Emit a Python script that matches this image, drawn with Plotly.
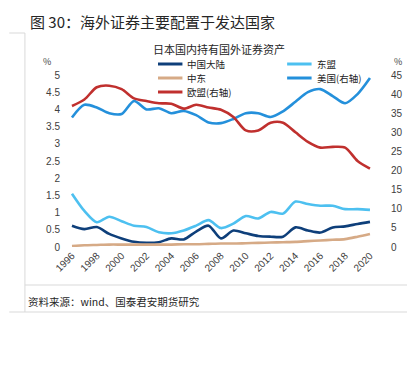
import plotly.graph_objects as go

years = list(range(1996, 2021))
china = [0.62, 0.52, 0.58, 0.38, 0.25, 0.15, 0.12, 0.14, 0.25, 0.22, 0.45, 0.62, 0.25, 0.48, 0.40,
         0.32, 0.30, 0.30, 0.57, 0.48, 0.42, 0.57, 0.60, 0.67, 0.73]
asean = [1.55, 1.05, 0.72, 0.88, 0.75, 0.62, 0.58, 0.43, 0.40, 0.48, 0.62, 0.78, 0.55, 0.68, 0.90,
         0.83, 1.02, 0.97, 1.32, 1.25, 1.20, 1.20, 1.10, 1.10, 1.08]
mideast = [0.03, 0.05, 0.06, 0.07, 0.07, 0.07, 0.07, 0.07, 0.07, 0.08, 0.08, 0.09, 0.10, 0.10, 0.11,
           0.12, 0.13, 0.14, 0.15, 0.17, 0.19, 0.21, 0.23, 0.30, 0.38]
usa = [33.9, 37.2, 36.5, 35.0, 34.8, 38.2, 36.0, 36.3, 35.0, 35.6, 34.5, 32.6, 32.4, 33.5, 35.0,
       35.0, 34.0, 35.5, 38.0, 40.5, 41.3, 39.5, 37.6, 40.0, 44.2]
eu = [36.9, 38.6, 41.8, 42.2, 41.3, 38.9, 38.2, 37.6, 37.5, 36.2, 37.2, 36.5, 35.9, 34.0, 30.5,
      30.5, 32.5, 32.5, 30.0, 27.5, 26.0, 26.2, 26.0, 22.5, 20.5]

left_ticks = [0, 0.5, 1, 1.5, 2, 2.5, 3, 3.5, 4, 4.5, 5]
right_ticks = [0, 5, 10, 15, 20, 25, 30, 35, 40, 45]
x_ticks = list(range(1996, 2021, 2))

# page has an 8px body margin: figure coords = page coords - 8
OFF = 8
W, H = 415 - OFF, 372 - OFF
L, R, T, B = 67 - OFF, W - (390 - OFF), 75 - OFF, H - (247 - OFF)
PW, PH = W - L - R, H - T - B


def px(x):
    return (x - OFF - L) / PW


def py(y):
    return (H - B - (y - OFF)) / PH


series = [
    ("中国大陆", china, "#0E3F7A", "y"),
    ("东盟", asean, "#4DC0F0", "y"),
    ("中东", mideast, "#D6AA86", "y"),
    ("美国(右轴)", usa, "#2490DB", "y2"),
    ("欧盟(右轴)", eu, "#C0302E", "y2"),
]

fig = go.Figure()
for name, vals, col, ax in series:
    fig.add_trace(go.Scatter(
        x=years, y=vals, name=name, yaxis=ax, mode="lines",
        line=dict(color=col, width=2.6, shape="spline", smoothing=0.8),
        hoverinfo="skip",
    ))

tickfont = dict(family="Liberation Sans, Arial", size=10, color="#404040")
fig.update_layout(
    width=W, height=H,
    margin=dict(l=L, r=R, t=T, b=B),
    paper_bgcolor="white", plot_bgcolor="white",
    showlegend=False,
    xaxis=dict(
        range=[1995.6, 2021.05], tickmode="array", tickvals=x_ticks,
        ticktext=[str(v) for v in x_ticks], tickangle=-45,
        tickfont=tickfont, showgrid=False, zeroline=False,
        showline=False, ticks="",
    ),
    yaxis=dict(
        range=[0, 5], tickmode="array", tickvals=left_ticks,
        ticktext=[str(v) for v in left_ticks],
        tickfont=tickfont, showgrid=False, zeroline=False, showline=False,
        ticks="", ticklabelstandoff=6,
    ),
    yaxis2=dict(
        range=[0, 45], overlaying="y", side="right", tickmode="array",
        tickvals=right_ticks, ticktext=[str(v) for v in right_ticks],
        tickfont=tickfont, showgrid=False, zeroline=False, showline=False,
        ticks="", ticklabelstandoff=7,
    ),
)

# manual legend in two columns (page coords)
LEG_FS = 9.5
legend_pos = {
    "中国大陆": (160, 64), "中东": (160, 78), "欧盟(右轴)": (160, 92),
    "东盟": (292, 64), "美国(右轴)": (292, 78),
}
for name, vals, col, ax in series:
    lx, ly = legend_pos[name]
    fig.add_shape(type="line", xref="paper", yref="paper",
                  x0=px(lx), y0=py(ly), x1=px(lx + 25), y1=py(ly),
                  line=dict(color=col, width=3))
    fig.add_annotation(x=px(lx + 28), y=py(ly), xref="paper", yref="paper", showarrow=False,
                       text=name, xanchor="left", yanchor="middle",
                       font=dict(family="Noto Sans CJK SC", size=LEG_FS, color="#222222"))

shapes_spec = [
    (8, 33, 24, 33), (24, 33, 24, 312), (24, 285, 415, 285), (8, 312, 415, 312),
]
for (x0, y0, x1, y1) in shapes_spec:
    fig.add_shape(type="line", xref="paper", yref="paper",
                  x0=px(x0), y0=py(y0), x1=px(x1), y1=py(y1),
                  line=dict(color="#D9D9D9", width=1))

ann = [
    ("图 30：海外证券主要配置于发达国家", 27, 22, 15, "left", "#262626"),
    ("日本国内持有国外证券资产", 222, 49, 11, "center", "#262626"),
    ("%", 47, 61, 9, "center", "#404040"),
    ("%", 405, 61, 9, "center", "#404040"),
    ("资料来源：wind、国泰君安期货研究", 25, 301, 10.5, "left", "#262626"),
]
for text, xx, yy, sz, al, col in ann:
    fig.add_annotation(x=px(xx), y=py(yy), xref="paper", yref="paper", showarrow=False,
                       text=text, xanchor=al, yanchor="middle",
                       font=dict(family="Noto Sans CJK SC", size=sz, color=col))

fig.write_html("out.html")
